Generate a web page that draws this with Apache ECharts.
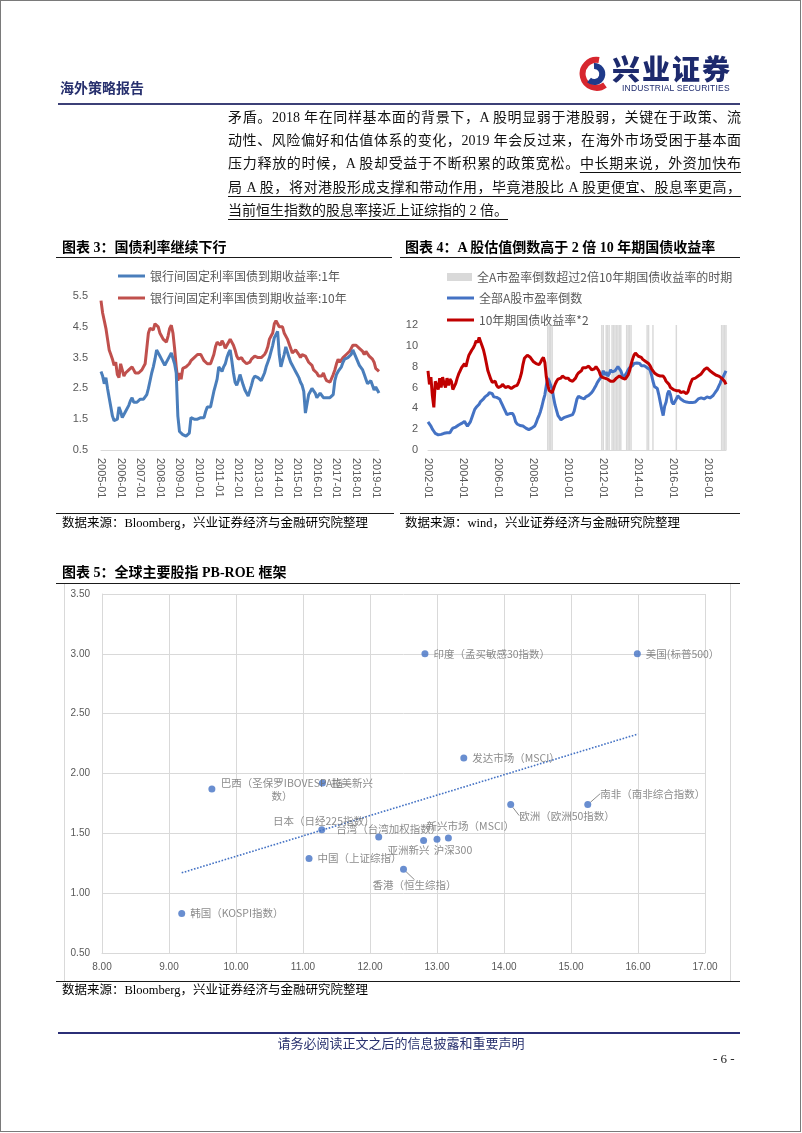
<!DOCTYPE html>
<html lang="zh-CN">
<head>
<meta charset="utf-8">
<title>海外策略报告</title>
<script src="https://cdn.jsdelivr.net/npm/echarts/dist/echarts.min.js"></script>
<style>
  html,body{margin:0;padding:0;background:#fff;}
  #page{position:relative;width:802px;height:1133px;overflow:hidden;background:#fff;}
  #frame{position:absolute;left:0;top:0;width:799px;height:1130px;border:1px solid #7a7a7a;z-index:0;}
  #box5{position:absolute;left:64px;top:583px;width:665px;height:397px;border:1px solid #d9d9d9;z-index:0;}
  #chart{position:absolute;left:0;top:0;width:802px;height:1133px;z-index:1;}
  .t{position:absolute;white-space:nowrap;z-index:2;font-family:"Liberation Serif","Noto Sans CJK SC",serif;color:#000;}
  .rule{position:absolute;z-index:2;background:#1a1a1a;height:1px;}
  .para{position:absolute;left:228px;width:513px;font-size:14px;line-height:20px;height:20px;text-align:justify;text-align-last:justify;z-index:2;font-family:"Liberation Serif","Noto Sans CJK SC",serif;color:#111;}
  .u{text-decoration:underline;text-underline-offset:4px;text-decoration-thickness:1px;}
  .title{font-size:14px;font-weight:bold;line-height:16px;}
  .src{font-size:12.5px;line-height:14px;}
</style>
</head>
<body>
<div id="page">
  <div id="frame"></div>
  <div id="box5"></div>

  <!-- header -->
  <div class="t" style="left:60px;top:79px;font-size:14px;line-height:16px;font-weight:bold;color:#27306e;font-family:'Noto Sans CJK SC',sans-serif;">海外策略报告</div>
  <svg style="position:absolute;left:578px;top:56px;z-index:2" width="34" height="36" viewBox="0 0 34 36">
    <path d="M21,4 A14,14 0 1 0 27,29" fill="none" stroke="#d7262e" stroke-width="6"/>
    <path d="M16,10 A8,8 0 1 1 11,24" fill="none" stroke="#1f3a8a" stroke-width="6"/>
  </svg>
  <div class="t" style="left:612px;top:53px;font-size:28px;line-height:30px;font-weight:900;color:#1d2a6d;font-family:'Noto Sans CJK SC',sans-serif;letter-spacing:2px;">兴业证券</div>
  <div class="t" style="left:622px;top:83px;font-size:8.5px;line-height:10px;color:#1d2a6d;font-family:'Liberation Sans',sans-serif;letter-spacing:0.2px;">INDUSTRIAL SECURITIES</div>
  <div class="rule" style="left:58px;top:103px;width:682px;height:2px;background:#3c4077;"></div>

  <!-- paragraph -->
  <div class="para" style="top:108px;">矛盾。2018 年在同样基本面的背景下，A 股明显弱于港股弱，关键在于政策、流</div>
  <div class="para" style="top:131px;">动性、风险偏好和估值体系的变化，2019 年会反过来，在海外市场受困于基本面</div>
  <div class="para" style="top:154px;">压力释放的时候，A 股却受益于不断积累的政策宽松。<span class="u">中长期来说，外资加快布</span></div>
  <div class="para" style="top:178px;"><span class="u">局 A 股，将对港股形成支撑和带动作用，毕竟港股比 A 股更便宜、股息率更高，</span></div>
  <div class="para" style="top:201px;text-align:left;text-align-last:left;"><span class="u">当前恒生指数的股息率接近上证综指的 2 倍。</span></div>

  <!-- chart titles -->
  <div class="t title" style="left:62px;top:240px;">图表 3：国债利率继续下行</div>
  <div class="rule" style="left:56px;top:257px;width:336px;"></div>
  <div class="t title" style="left:405px;top:240px;">图表 4：A 股估值倒数高于 2 倍 10 年期国债收益率</div>
  <div class="rule" style="left:400px;top:257px;width:340px;"></div>

  <div class="rule" style="left:56px;top:513px;width:338px;"></div>
  <div class="t src" style="left:62px;top:516px;">数据来源：Bloomberg，兴业证券经济与金融研究院整理</div>
  <div class="rule" style="left:400px;top:513px;width:340px;"></div>
  <div class="t src" style="left:405px;top:516px;">数据来源：wind，兴业证券经济与金融研究院整理</div>

  <div class="t title" style="left:62px;top:565px;">图表 5：全球主要股指 PB-ROE 框架</div>
  <div class="rule" style="left:56px;top:583px;width:684px;"></div>
  <div class="rule" style="left:56px;top:981px;width:684px;"></div>
  <div class="t src" style="left:62px;top:983px;">数据来源：Bloomberg，兴业证券经济与金融研究院整理</div>

  <!-- footer -->
  <div class="rule" style="left:58px;top:1032px;width:682px;height:2px;background:#2b2f77;"></div>
  <div class="t" style="left:0;width:802px;text-align:center;top:1036px;font-size:13px;line-height:15px;color:#27306e;">请务必阅读正文之后的信息披露和重要声明</div>
  <div class="t" style="left:713px;top:1051px;font-size:13px;line-height:15px;color:#222;">- 6 -</div>

  <div id="chart"></div>
</div>
<script>
// ---------------- Chart 3 data (monthly, 2005-01 .. 2019-03) ----------------
const bond1Y = [
  3.05,2.90,2.65,2.85,2.50,2.20,1.90,1.60,1.45,1.40,1.50,1.90,
  1.75,1.55,1.60,1.75,1.80,1.95,2.10,2.20,2.05,2.05,2.05,2.10,
  2.15,2.10,2.15,2.20,2.30,2.50,2.75,3.00,3.20,3.45,3.75,3.70,
  3.55,3.45,3.35,3.25,3.30,3.45,3.50,3.65,3.60,3.30,3.00,1.60,
  1.10,1.05,1.00,0.95,0.95,1.00,1.05,1.55,1.60,1.50,1.50,1.50,
  1.55,1.55,1.60,1.55,1.75,1.90,1.95,1.90,1.95,2.40,2.60,2.80,
  3.20,3.25,3.05,3.20,3.30,3.50,3.65,3.75,3.40,3.00,2.70,2.60,
  2.75,2.95,2.90,2.60,2.45,2.35,2.25,2.30,2.60,2.80,2.90,2.85,
  2.85,2.80,2.75,2.80,3.00,3.20,3.35,3.50,3.70,3.90,4.15,4.20,
  4.35,3.60,3.20,3.40,3.60,3.85,3.80,3.50,3.35,3.25,3.15,3.05,
  2.95,2.85,2.70,2.60,2.40,1.70,2.00,2.30,2.40,2.50,2.45,2.35,
  2.20,2.25,2.35,2.30,2.20,2.25,2.20,2.20,2.20,2.25,2.30,2.75,
  2.95,3.05,3.10,3.20,3.35,3.45,3.50,3.50,3.55,3.60,3.75,3.70,
  3.50,3.45,3.25,3.30,3.10,2.95,2.80,2.65,2.60,2.75,2.60,2.45,
  2.55,2.45,2.35
];
const bond10Y = [
  5.35,4.95,4.70,4.45,4.10,3.75,3.60,3.45,3.25,3.35,2.95,2.85,
  3.30,3.10,2.90,3.00,3.05,3.10,3.15,3.20,3.10,3.00,2.95,3.00,
  3.05,3.10,3.10,3.30,3.80,4.30,4.45,4.50,4.40,4.60,4.55,4.50,
  4.30,4.20,4.10,4.05,4.00,4.20,4.45,4.55,4.30,3.80,3.20,2.75,
  3.00,2.80,3.15,3.10,3.20,3.15,3.30,3.40,3.45,3.50,3.55,3.60,
  3.55,3.60,3.50,3.40,3.35,3.30,3.25,3.30,3.30,3.60,3.85,4.00,
  3.95,3.90,4.05,3.95,3.80,3.90,4.00,4.10,4.05,3.90,3.75,3.55,
  3.45,3.50,3.50,3.40,3.35,3.30,3.30,3.35,3.45,3.50,3.55,3.55,
  3.50,3.45,3.50,3.55,3.60,3.70,3.85,4.10,4.20,4.30,4.60,4.70,
  4.60,4.50,4.45,4.50,4.30,4.25,4.10,3.95,3.80,3.65,3.60,3.75,
  3.70,3.60,3.50,3.60,3.60,3.55,3.45,3.35,3.40,3.25,3.10,3.05,
  3.00,2.90,2.95,2.90,3.00,2.85,2.75,2.80,2.70,2.75,2.95,3.10,
  3.30,3.45,3.35,3.40,3.50,3.55,3.60,3.65,3.70,3.80,3.90,3.95,
  3.90,3.90,3.80,3.75,3.70,3.60,3.70,3.65,3.55,3.60,3.45,3.35,
  3.15,3.20,3.05
];
const chart3Names = ['银行间固定利率国债到期收益率:1年','银行间固定利率国债到期收益率:10年'];

// ---------------- Chart 4 data (monthly, 2002-01 .. 2019-01) ----------------
const invPE = [
  2.70,2.60,2.30,2.00,1.80,1.60,1.50,1.45,1.45,1.50,1.50,1.60,
  1.60,1.65,1.70,1.65,1.90,2.10,2.10,2.20,2.30,2.40,2.45,2.55,
  2.70,2.75,2.50,2.30,2.40,2.70,3.10,3.50,3.90,4.10,4.20,4.40,
  4.65,4.80,4.90,5.10,5.25,5.30,5.50,5.60,5.40,5.10,4.95,5.05,
  5.00,4.90,4.60,4.30,4.00,3.70,3.40,3.40,3.50,3.55,3.50,3.20,
  2.70,2.50,2.40,2.35,2.30,2.30,2.25,2.10,2.00,1.95,1.90,2.10,
  2.20,2.30,2.60,3.00,3.30,3.70,4.20,4.80,5.30,6.20,6.90,6.60,
  6.20,5.90,5.00,4.30,3.80,3.30,3.10,2.90,3.00,3.10,3.20,3.20,
  3.30,3.30,3.35,3.40,3.70,4.30,4.90,5.15,5.20,5.00,5.00,4.90,
  5.10,5.00,5.25,5.30,5.50,5.70,5.95,6.20,6.50,6.70,6.90,7.20,
  7.60,7.20,7.50,7.10,7.30,7.70,7.50,7.40,7.60,7.80,8.00,8.10,
  7.60,7.20,7.00,7.10,7.40,7.70,7.90,7.80,8.10,8.30,8.40,8.35,
  8.20,8.30,8.10,8.20,8.10,8.00,7.90,7.90,7.70,7.20,6.60,6.10,
  6.00,5.90,5.30,4.60,3.90,3.30,4.20,4.60,5.40,5.70,5.30,4.60,
  4.40,4.50,4.90,5.20,5.10,4.90,4.80,4.70,4.65,4.60,4.60,4.55,
  4.60,4.55,4.50,4.60,4.75,4.90,5.00,5.00,4.95,4.90,5.00,5.10,
  5.00,5.00,5.10,5.20,5.40,5.60,5.80,6.10,6.40,6.80,7.00,7.30,
  7.60
];
const cgb10x2 = [
  7.60,6.30,7.00,5.20,4.10,6.60,6.20,5.80,6.90,6.00,7.00,6.40,
  6.00,6.90,6.20,6.80,6.60,5.80,5.70,6.40,6.90,7.30,7.60,7.90,
  7.80,8.30,8.00,8.60,9.10,9.00,9.60,9.80,10.10,10.50,10.30,10.80,
  10.40,10.00,9.60,9.00,8.30,7.60,7.20,6.80,6.50,6.40,6.60,6.20,
  6.00,5.90,6.10,6.30,6.20,6.00,6.10,6.10,6.00,5.90,6.00,6.10,
  6.10,6.20,6.50,6.90,7.40,8.20,8.80,8.90,9.10,9.00,8.90,8.70,
  8.50,8.40,8.30,8.20,8.20,8.40,8.70,8.90,8.40,7.00,6.20,5.70,
  5.60,5.50,5.90,6.30,6.60,6.80,6.70,6.90,7.10,7.00,6.90,7.00,
  6.90,6.70,6.60,6.60,6.70,6.90,7.20,7.40,7.50,7.60,7.90,7.80,
  7.90,8.00,8.05,7.90,7.70,7.60,7.80,8.00,8.00,7.60,7.20,7.00,
  6.90,6.90,6.80,6.80,6.70,6.60,6.60,6.60,6.70,6.90,7.00,7.10,
  7.00,6.90,6.80,6.80,7.00,7.20,7.60,8.20,8.70,9.10,9.30,9.20,
  9.00,8.90,8.90,8.70,8.60,8.50,8.40,8.30,8.10,7.80,7.70,7.40,
  7.30,7.20,7.20,7.10,7.00,7.10,6.90,6.60,6.50,6.30,6.00,5.90,
  5.80,5.70,5.70,5.60,5.70,5.50,5.60,5.60,5.50,5.40,5.60,6.10,
  6.50,6.80,6.90,6.90,7.00,7.10,7.20,7.30,7.50,7.70,7.80,7.90,
  7.80,7.60,7.50,7.40,7.30,7.20,7.20,7.10,7.10,6.90,7.00,6.60,
  6.30
];
// periods (inclusive months) where the inverse PE exceeded 2x the 10Y yield
const shadedPeriods = [
  ['2008-11','2009-02'],['2011-12','2012-01'],['2012-03','2012-05'],['2012-07','2013-01'],
  ['2013-05','2013-08'],['2014-07','2014-08'],['2014-11','2014-11'],['2016-03','2016-03'],
  ['2018-10','2019-01']
];
const shadeLevel = 12;
const chart4Names = ['全A市盈率倒数超过2倍10年期国债收益率的时期','全部A股市盈率倒数','10年期国债收益率*2'];

// ---------------- Chart 5 data (PB-ROE) ----------------
const marketNames = ['印度（孟买敏感30指数）','美国(标普500）','发达市场（MSCI）','巴西（圣保罗IBOVESPA指数）','拉美新兴',
  '日本（日经225指数）','台湾（台湾加权指数）','中国（上证综指）','韩国（KOSPI指数）','欧洲（欧洲50指数）',
  '南非（南非综合指数）','亚洲新兴','沪深300','新兴市场（MSCI）','香港（恒生综指）'];
const roe = [12.82,15.99,13.40,9.64,11.29,11.28,12.13,11.09,9.19,14.10,15.25,12.80,13.00,13.17,12.50];
const pb  = [3.00,3.00,2.13,1.87,1.92,1.53,1.47,1.29,0.83,1.74,1.74,1.44,1.45,1.46,1.20];
const trendX = [9.19, 16.00];
const trendY = [1.17, 2.33];
const xTicks5 = {min:8, max:17, step:1};
const yTicks5 = {min:0.5, max:3.5, step:0.5};

// ---------------- helpers ----------------
function monthRange(y0,m0,y1,m1){
  const a=[];let y=y0,m=m0;
  while(y<y1||(y===y1&&m<=m1)){a.push(y+'-'+String(m).padStart(2,'0'));m++;if(m>12){m=1;y++;}}
  return a;
}
const months3 = monthRange(2005,1,2019,3);
const months4 = monthRange(2002,1,2019,1);
const shadeData = months4.map(m => shadedPeriods.some(p => m>=p[0] && m<=p[1]) ? shadeLevel : '-');

// label placement (styles, not data)
const labelPlacement = {
  '印度（孟买敏感30指数）':{pos:'right'},
  '美国(标普500）':{pos:'right'},
  '发达市场（MSCI）':{pos:'right'},
  '巴西（圣保罗IBOVESPA指数）':{pos:'inside',dx:70,dy:0,text:'巴西（圣保罗IBOVESPA指\n数）'},
  '拉美新兴':{pos:'right'},
  '日本（日经225指数）':{pos:'top',dx:2,dy:5},
  '台湾（台湾加权指数）':{pos:'top',dx:10,dy:6},
  '中国（上证综指）':{pos:'right'},
  '韩国（KOSPI指数）':{pos:'right'},
  '欧洲（欧洲50指数）':{pos:'right',dx:0,dy:11,line:true},
  '南非（南非综合指数）':{pos:'right',dx:4,dy:-11,line:true},
  '亚洲新兴':{pos:'bottom',dx:-15,dy:-4},
  '沪深300':{pos:'bottom',dx:16,dy:-3},
  '新兴市场（MSCI）':{pos:'top',dx:22,dy:2},
  '香港（恒生综指）':{pos:'bottom',dx:11,dy:2,line:true}
};

const gray = '#595959';
const cjk = '"Noto Sans CJK SC","Liberation Sans",sans-serif';
const sans = '"Liberation Sans","Noto Sans CJK SC",sans-serif';
const legendText = {fontSize:12,color:gray,fontFamily:cjk};

const scatterData = marketNames.map((n,i)=>{
  const p = labelPlacement[n];
  const item = {name:n, value:[roe[i],pb[i]], label:{position:p.pos}};
  if (p.text) { item.label.formatter = p.text; item.label.align = 'center'; item.label.lineHeight = 13; }
  if (p.line) item.labelLine = {show:true, lineStyle:{color:'#8c8c8c',width:1}};
  return item;
});

const chart = echarts.init(document.getElementById('chart'), null, {renderer:'canvas', width:802, height:1133});
chart.setOption({
  animation:false,
  backgroundColor:'transparent',
  textStyle:{fontFamily:sans},
  grid:[
    {left:101, top:296, width:278, height:154, outerBoundsMode:'none', containLabel:false},
    {left:428, top:325, width:298, height:125, outerBoundsMode:'none', containLabel:false},
    {left:102, top:594, width:603, height:359, outerBoundsMode:'none', containLabel:false}
  ],
  legend:[
    {data:chart3Names, orient:'vertical', left:118, top:270, padding:0, itemWidth:27, itemHeight:3, itemGap:10, icon:'rect', selectedMode:false, textStyle:legendText},
    {data:[chart4Names[0]], left:447, top:271, padding:0, itemWidth:25, itemHeight:8, icon:'rect', selectedMode:false, textStyle:legendText},
    {data:[chart4Names[1]], left:447, top:292, padding:0, itemWidth:27, itemHeight:3, icon:'rect', selectedMode:false, textStyle:legendText},
    {data:[chart4Names[2]], left:447, top:314, padding:0, itemWidth:27, itemHeight:3, icon:'rect', selectedMode:false, textStyle:legendText}
  ],
  xAxis:[
    {gridIndex:0, type:'category', data:months3, boundaryGap:false,
     axisTick:{show:false}, axisLine:{lineStyle:{color:'#d9d9d9'}}, splitLine:{show:false},
     axisLabel:{interval:11, rotate:-90, fontSize:11, color:gray, margin:8, fontFamily:sans}},
    {gridIndex:1, type:'category', data:months4, boundaryGap:false,
     axisTick:{show:false}, axisLine:{lineStyle:{color:'#d9d9d9'}}, splitLine:{show:false},
     axisLabel:{interval:23, rotate:-90, fontSize:11, color:gray, margin:8, fontFamily:sans}},
    {gridIndex:2, type:'value', min:xTicks5.min, max:xTicks5.max, interval:xTicks5.step,
     axisLine:{show:true, lineStyle:{color:'#d9d9d9'}}, axisTick:{show:false},
     splitLine:{show:true, lineStyle:{color:'#d9d9d9'}},
     axisLabel:{formatter:v=>v.toFixed(2), fontSize:10, color:gray, margin:9, fontFamily:sans}}
  ],
  yAxis:[
    {gridIndex:0, type:'value', min:0.5, max:5.5, interval:1, splitLine:{show:false}, axisLine:{show:false}, axisTick:{show:false},
     axisLabel:{formatter:v=>v.toFixed(1), fontSize:11, color:gray, margin:13, fontFamily:sans}},
    {gridIndex:1, type:'value', min:0, max:12, interval:2, splitLine:{show:false}, axisLine:{show:false}, axisTick:{show:false},
     axisLabel:{fontSize:11, color:gray, margin:10, fontFamily:sans}},
    {gridIndex:2, type:'value', min:yTicks5.min, max:yTicks5.max, interval:yTicks5.step,
     axisLine:{show:true, lineStyle:{color:'#d9d9d9'}}, axisTick:{show:false},
     splitLine:{show:true, lineStyle:{color:'#d9d9d9'}},
     axisLabel:{formatter:v=>v.toFixed(2), fontSize:10, color:gray, margin:12, fontFamily:sans}}
  ],
  series:[
    {type:'line', name:chart3Names[1], xAxisIndex:0, yAxisIndex:0, data:bond10Y, symbol:'none',
     lineStyle:{color:'#c0504d', width:3}, itemStyle:{color:'#c0504d'}, z:2},
    {type:'line', name:chart3Names[0], xAxisIndex:0, yAxisIndex:0, data:bond1Y, symbol:'none',
     lineStyle:{color:'#4a7ebb', width:3}, itemStyle:{color:'#4a7ebb'}, z:3},
    {type:'bar', name:chart4Names[0], xAxisIndex:1, yAxisIndex:1, data:shadeData, barCategoryGap:'0%', barWidth:'100%',
     itemStyle:{color:'#d9d9d9'}, z:1},
    {type:'line', name:chart4Names[1], xAxisIndex:1, yAxisIndex:1, data:invPE, symbol:'none',
     lineStyle:{color:'#4472c4', width:3}, itemStyle:{color:'#4472c4'}, z:3},
    {type:'line', name:chart4Names[2], xAxisIndex:1, yAxisIndex:1, data:cgb10x2, symbol:'none',
     lineStyle:{color:'#c00000', width:3}, itemStyle:{color:'#c00000'}, z:4},
    {type:'line', name:'趋势线', xAxisIndex:2, yAxisIndex:2,
     data:[[trendX[0],trendY[0]],[trendX[1],trendY[1]]], symbol:'none',
     lineStyle:{type:'dotted', color:'#4472c4', width:1.6}, z:2},
    {type:'scatter', name:'PB-ROE', xAxisIndex:2, yAxisIndex:2, data:scatterData, symbolSize:7,
     itemStyle:{color:'#4472c4'}, z:3,
     label:{show:true, formatter:'{b}', fontSize:10.5, color:'#6e6e6e', fontFamily:cjk, distance:5},
     labelLine:{show:false, lineStyle:{color:'#8c8c8c', width:1}},
     labelLayout:function(params){
       const p = labelPlacement[marketNames[params.dataIndex]];
       return {dx:(p && p.dx)||0, dy:(p && p.dy)||0};
     }}
  ]
});
</script>
</body>
</html>
